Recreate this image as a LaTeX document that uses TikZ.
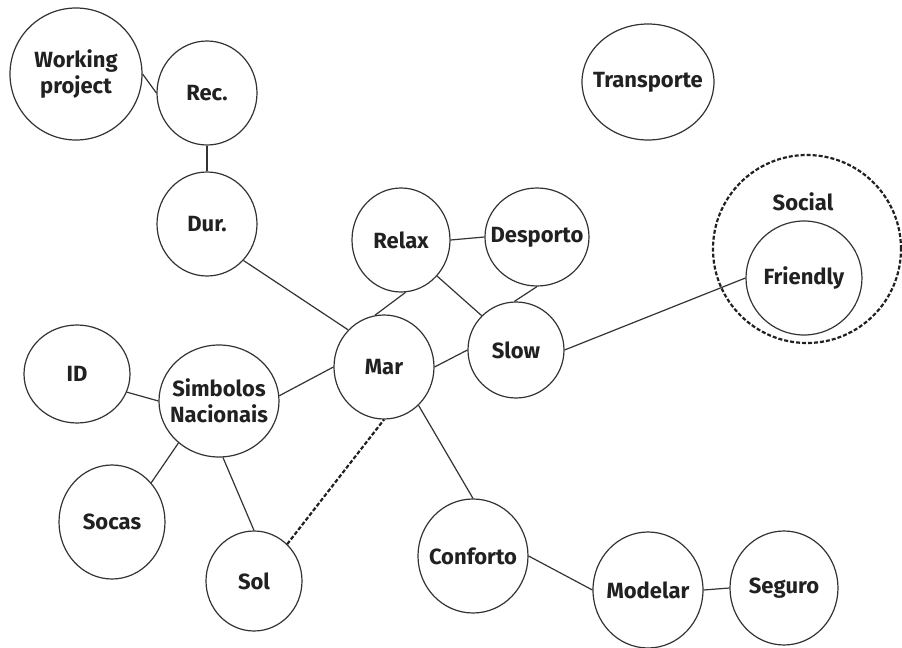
\documentclass[tikz,border=0pt]{standalone}
\usepackage{fontspec}
\setmainfont{Fira Sans}
\usetikzlibrary{shapes.geometric}
\definecolor{mydark}{gray}{0.13}
\definecolor{myline}{gray}{0.2}
\tikzset{
  bubble/.style={ellipse, draw=myline, line width=0.6pt, inner xsep=-12pt, inner ysep=0pt, text=mydark,
    font=\bfseries\fontsize{11}{13}\selectfont, align=center},
  sz/.style 2 args={minimum width=#1*0.5pt, minimum height=#2*0.5pt},
  link/.style={myline, line width=0.6pt},
  dlink/.style={mydark, line width=1.1pt, dash pattern=on 2pt off 1pt}
}
\begin{document}
\begin{tikzpicture}[x=0.5pt,y=-0.5pt]
\useasboundingbox (0,0) rectangle (902,648);
\node[bubble,sz={132}{132}] (wp) at (76,74) {Working\\project};
\node[bubble,sz={100}{104}] (rec) at (207,93) {Rec.};
\node[bubble,sz={100}{104}] (dur) at (207,224) {Dur.};
\node[bubble,sz={98}{104}] (relax) at (401,240) {Relax};
\node[bubble,sz={104}{98}] (desporto) at (537,237) {Desporto};
\node[bubble,sz={132}{116}] (transporte) at (648,82) {Transporte};
\node[bubble,draw=mydark,line width=1.1pt,dash pattern=on 2pt off 1pt,sz={188}{188}] (social) at (807,249) {};
\node[text=mydark,font=\bfseries\fontsize{11}{13}\selectfont] (sociallbl) at (803,202) {Social};
\node[bubble,sz={116}{114}] (friendly) at (804,278) {Friendly};
\node[bubble,sz={96}{96}] (slow) at (516,350) {Slow};
\node[bubble,sz={100}{104}] (mar) at (384,367) {Mar};
\node[bubble,sz={106}{98}] (id) at (77,374) {ID};
\node[bubble,sz={120}{112}] (simb) at (219,401) {Simbolos\\Nacionais};
\node[bubble,sz={106}{114}] (socas) at (112,522) {Socas};
\node[bubble,sz={96}{100}] (sol) at (254,581) {Sol};
\node[bubble,sz={110}{114}] (conforto) at (473,556) {Conforto};
\node[bubble,sz={110}{116}] (modelar) at (648,590) {Modelar};
\node[bubble,sz={108}{114}] (seguro) at (784,588) {Seguro};
% draw the links
\draw[link] (wp.0) -- (rec.180);
\draw[link] (rec.south) -- (dur.north);
\draw[link] (dur.-45) -- (mar.134);
\draw[link] (relax.-85) -- (mar.100);
\draw[link] (relax.east) -- (desporto.west);
\draw[link] (relax.-45) -- (slow.135);
\draw[link] (desporto.-90) -- (slow.92);
\draw[link] (mar.east) -- (slow.west);
\draw[link] (slow.east) -- (friendly.west);
\draw[link] (id.-20) -- (simb.180);
\draw[link] (simb.5) -- (mar.west);
\draw[link] (simb.-134) -- (socas.45);
\draw[link] (simb.-86) -- (sol.90);
\draw[dlink] (sol.48) -- (mar.-90);
\draw[link] (mar.-48) -- (conforto.north);
\draw[link] (conforto.east) -- (modelar.west);
\draw[link] (modelar.east) -- (seguro.west);
\end{tikzpicture}
\end{document}
